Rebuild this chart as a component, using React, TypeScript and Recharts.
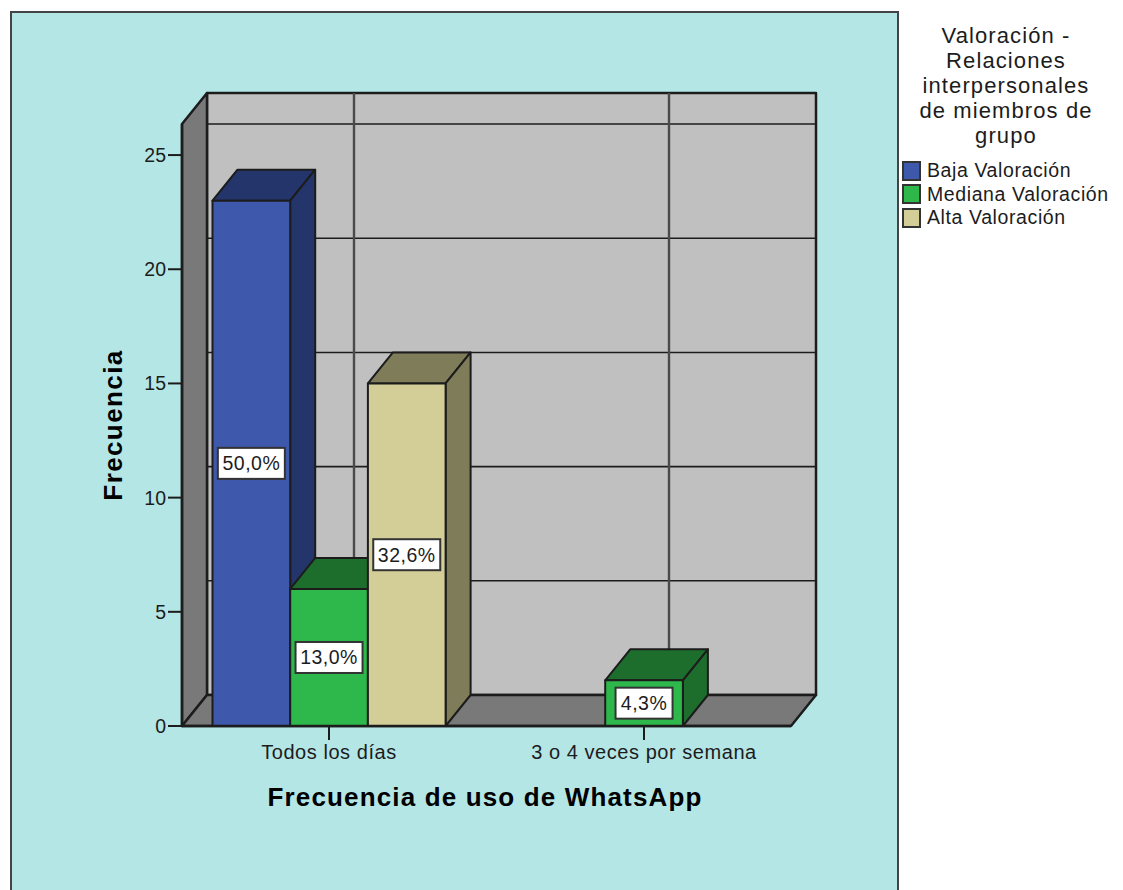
import React from "react";
import { BarChart, Bar, XAxis, YAxis, CartesianGrid, Legend, LabelList } from "recharts";

const categories = ["Todos los días", "3 o 4 veces por semana"];
const bajaValues = [23, null];
const medianaValues = [6, 2];
const altaValues = [15, null];
const bajaPct = ["50,0%", null];
const medianaPct = ["13,0%", "4,3%"];
const altaPct = ["32,6%", null];
const yTicks = [0, 5, 10, 15, 20, 25];
const legendTitle = ["Valoración -", "Relaciones", "interpersonales", "de miembros de", "grupo"];

const chartData = categories.map((cat, i) => ({
  cat,
  baja: bajaValues[i],
  mediana: medianaValues[i],
  alta: altaValues[i],
  bajaPct: bajaPct[i],
  medianaPct: medianaPct[i],
  altaPct: altaPct[i],
}));

const FONT = "'Liberation Sans', Arial, sans-serif";
const INK = "#1c1c1c";
// depth of the fake 3D box
const DX = 25;
const DY = -31;
const PLOT = { left: 182, top: 124, right: 791, bottom: 726 };

const Bar3D = (props: any) => {
  const { x, y, width: w, height: h, fill, dark } = props;
  if (props.value == null || !h) return null;
  return (
    <g stroke={INK} strokeWidth={2} strokeLinejoin="round">
      <polygon points={`${x},${y} ${x + DX},${y + DY} ${x + w + DX},${y + DY} ${x + w},${y}`} fill={dark} />
      <polygon
        points={`${x + w},${y} ${x + w + DX},${y + DY} ${x + w + DX},${y + h + DY} ${x + w},${y + h}`}
        fill={dark}
      />
      <rect x={x} y={y} width={w} height={h} fill={fill} />
    </g>
  );
};

const PctLabel = (props: any) => {
  const { x, y, width: w, height: h, value } = props;
  if (!value) return null;
  const boxW = value.length * 10 + 17;
  const cx = x + w / 2;
  const cy = y + h / 2;
  return (
    <g>
      <rect x={cx - boxW / 2} y={cy - 15.5} width={boxW} height={31} fill="#fff" stroke="#333" strokeWidth={2} />
      <text x={cx} y={cy + 7} textAnchor="middle" fontFamily={FONT} fontSize={19.5} letterSpacing={0.5} fill={INK}>
        {value}
      </text>
    </g>
  );
};

const Walls = () => {
  const { left, top, right, bottom } = PLOT;
  return (
    <g stroke={INK} strokeWidth={2.5} strokeLinejoin="round">
      <rect x={left + DX} y={top + DY} width={right - left} height={bottom - top} fill="#c0c0c0" />
      <polygon
        points={`${left},${top} ${left + DX},${top + DY} ${left + DX},${bottom + DY} ${left},${bottom}`}
        fill="#797979"
      />
      <polygon
        points={`${left},${bottom} ${left + DX},${bottom + DY} ${right + DX},${bottom + DY} ${right},${bottom}`}
        fill="#797979"
      />
    </g>
  );
};

const backLine = (stroke: string, strokeWidth: number) => (p: any) => {
  // the grid also gives lines on the plot edges, the walls already have those
  if (p.x1 === p.x2 && (p.x1 <= PLOT.left + 1 || p.x1 >= PLOT.right - 1)) return <g key={p.key} />;
  return (
    <line
      key={p.key}
      x1={p.x1 + DX}
      y1={p.y1 + DY}
      x2={p.x2 + DX}
      y2={p.y2 + DY}
      stroke={stroke}
      strokeWidth={strokeWidth}
    />
  );
};

const AxisTitles = () => (
  <g fontFamily={FONT} fontWeight="bold" fontSize={26} fill="#000">
    <text x={485} y={806} textAnchor="middle" letterSpacing={1.15}>
      Frecuencia de uso de WhatsApp
    </text>
    <text x={122} y={425} textAnchor="middle" letterSpacing={1.4} transform="rotate(-90 122 425)">
      Frecuencia
    </text>
  </g>
);

const LegendBox = ({ payload }: any) => (
  <div style={{ fontFamily: FONT, color: INK, width: 221 }}>
    <div style={{ width: 208, textAlign: "center", fontSize: 22, lineHeight: "25px", letterSpacing: 1.1 }}>
      {legendTitle.map((t) => (
        <div key={t}>{t}</div>
      ))}
    </div>
    <div style={{ marginTop: 11 }}>
      {(payload || []).map((item: any) => (
        <div
          key={item.value}
          style={{ display: "flex", alignItems: "center", height: 23.6, fontSize: 19.5, letterSpacing: 0.6 }}
        >
          <span
            style={{
              display: "inline-block",
              boxSizing: "border-box",
              width: 19,
              height: 20,
              background: item.color,
              border: "2px solid #333",
              marginRight: 6,
            }}
          />
          {item.value}
        </div>
      ))}
    </div>
  </div>
);

export default function App() {
  return (
    <div style={{ position: "absolute", left: 0, top: 0, width: 1123, height: 890, background: "#fff", overflow: "hidden" }}>
      <div
        style={{
          position: "absolute",
          left: 10,
          top: 11,
          width: 885,
          height: 879,
          background: "#b5e6e6",
          borderLeft: "2px solid #444",
          borderTop: "2px solid #444",
          borderRight: "2px solid #444",
        }}
      />
      <BarChart
        width={1123}
        height={890}
        data={chartData}
        barGap={0}
        barSize={77.7}
        margin={{ left: 122, right: 111, top: PLOT.top, bottom: 124 }}
      >
        <Walls />
        <CartesianGrid horizontal={backLine(INK, 1.6)} vertical={backLine("#4a4a4a", 2.4)} zIndex={1} />
        <XAxis
          dataKey="cat"
          height={40}
          interval={0}
          padding={{ left: -10.5, right: -10.5 }}
          axisLine={{ stroke: INK, strokeWidth: 2.5 }}
          tickLine={{ stroke: INK, strokeWidth: 2 }}
          tickSize={14}
          tickMargin={5}
          tick={{ fontFamily: FONT, fontSize: 20, letterSpacing: 0.55, fill: INK }}
        />
        <YAxis
          width={60}
          domain={[0, 26.36]}
          ticks={yTicks}
          axisLine={{ stroke: INK, strokeWidth: 2.5 }}
          tickLine={{ stroke: INK, strokeWidth: 2 }}
          tickSize={14}
          tickMargin={2}
          tick={{ fontFamily: FONT, fontSize: 19.5, fill: INK }}
        />
        <Legend
          layout="vertical"
          align="right"
          verticalAlign="top"
          width={221}
          itemSorter={null}
          wrapperStyle={{ left: 902, top: 23, right: "auto" }}
          content={<LegendBox />}
        />
        <Bar dataKey="baja" name="Baja Valoración" fill="#3e58ac" shape={<Bar3D dark="#24356b" />} isAnimationActive={false}>
          <LabelList dataKey="bajaPct" content={<PctLabel />} />
        </Bar>
        <Bar dataKey="mediana" name="Mediana Valoración" fill="#2eb84c" shape={<Bar3D dark="#1d6e2d" />} isAnimationActive={false}>
          <LabelList dataKey="medianaPct" content={<PctLabel />} />
        </Bar>
        <Bar dataKey="alta" name="Alta Valoración" fill="#d3ce97" shape={<Bar3D dark="#7f7c5a" />} isAnimationActive={false}>
          <LabelList dataKey="altaPct" content={<PctLabel />} />
        </Bar>
        <AxisTitles />
      </BarChart>
    </div>
  );
}
